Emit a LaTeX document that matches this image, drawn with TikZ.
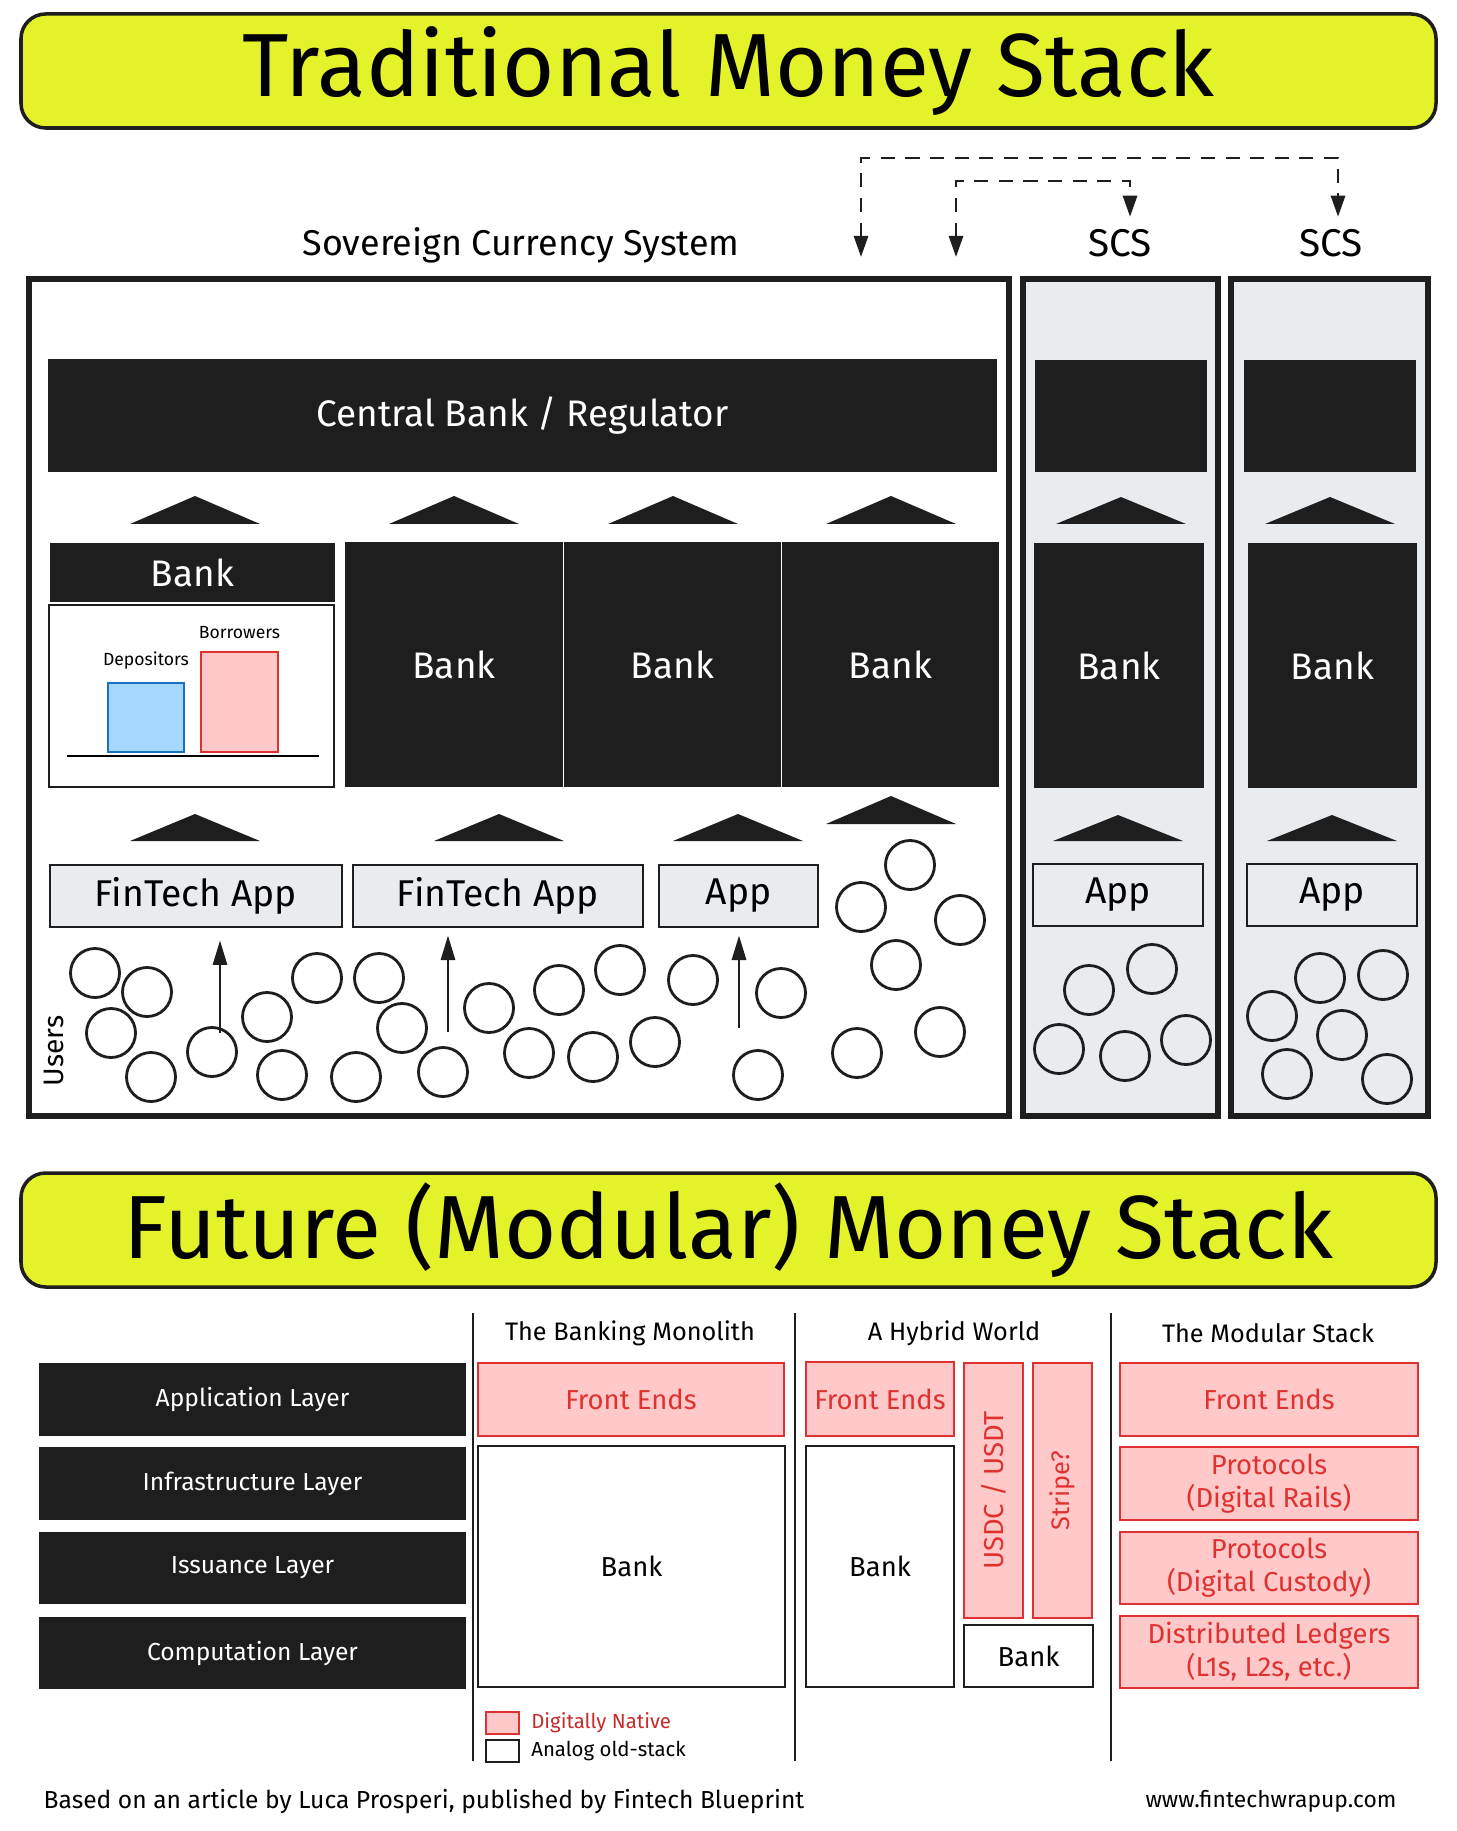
\documentclass[tikz,border=0pt]{standalone}
\usepackage{fontspec}
\setmainfont{Fira Sans}
\usetikzlibrary{arrows.meta,fit,positioning}
\definecolor{ttlyellow}{HTML}{E4F22A}
\definecolor{inkblack}{HTML}{1E1E1E}
\definecolor{stackgray}{HTML}{E9ECEF}
\definecolor{nativepink}{HTML}{FFC9C9}
\definecolor{nativered}{HTML}{E03131}
\definecolor{keyred}{HTML}{C92A2A}
\definecolor{depblue}{HTML}{A5D8FF}
\definecolor{depline}{HTML}{1971C2}
\newcommand{\fsz}[1]{\fontsize{#1}{1.2\dimexpr#1pt\relax}\selectfont}
\tikzset{
  ttl/.style={fill=ttlyellow, draw=inkblack, line width=1pt, rounded corners=7pt, inner sep=0pt},
  ttltxt/.style={font=\fsz{25.5}},
  frame/.style={draw=inkblack, line width=1.5pt, inner sep=0pt},
  scsframe/.style={frame, fill=stackgray},
  blk/.style={fill=inkblack, draw=inkblack, inner sep=0pt},
  onblk/.style={text=white, font=\fsz{10.5}},
  plain/.style={draw=inkblack, fill=white, line width=0.6pt, inner sep=0pt},
  plaintxt/.style={font=\fsz{7.8}},
  appbox/.style={draw=inkblack, fill=stackgray, line width=0.8pt, inner sep=0pt},
  apptxt/.style={font=\fsz{10.6}},
  native/.style={draw=nativered, fill=nativepink, line width=0.6pt, inner sep=0pt},
  nativetxt/.style={text=nativered, align=center, font=\fsz{7.8}},
  layertxt/.style={text=white, font=\fsz{7}},
  usr/.style={draw=inkblack, line width=0.8pt},
  roof/.style={fill=inkblack},
  dasharrow/.style={draw=inkblack, line width=0.8pt, dash pattern=on 4pt off 3pt,
    {Triangle[length=6pt,width=4pt]}-{Triangle[length=6pt,width=4pt]}},
  uparrow/.style={draw=inkblack, line width=0.8pt, -{Triangle[length=7pt,width=4pt]}},
  divider/.style={draw=inkblack, line width=0.6pt},
  coltitle/.style={font=\fsz{7.2}},
}
\begin{document}
\begin{tikzpicture}[x=0.01cm, y=-0.01cm]
  \useasboundingbox[fill=white] (0,0) rectangle (1456,1831);
  % titles
  \node[ttl, fit={(21,14) (1436,128)}, label={[ttltxt]center:Traditional Money Stack}] (ttltrad) {};
  \node[ttl, fit={(21,1173) (1436,1287)}, label={[ttltxt]center:Future (Modular) Money Stack}] (ttlfut) {};

  % labels over the stacks
  \node[font=\fsz{10.2}] (sovlbl) at (521,245) {Sovereign Currency System};
  \node[font=\fsz{11}] (scsA) at (1120,243) {SCS};
  \node[font=\fsz{11}] (scsB) at (1331,243) {SCS};
  \coordinate (dA) at (861,257);
  \coordinate (dB) at (956,257);
  \draw[dasharrow] (dA) -- ++(0,-99) -| ([xshift=0.07cm]scsB.north);
  \draw[dasharrow] (dB) -- ++(0,-76) -| ([xshift=0.1cm]scsA.north);

  % outer frames
  \node[frame, fit={(29,279) (1009,1116)}] (sov) {};
  \node[scsframe, fit={(1023,279) (1218,1116)}] (scsboxA) {};
  \node[scsframe, fit={(1231,279) (1428,1116)}] (scsboxB) {};

  % regulators
  \node[blk, fit={(49,360) (996,471)}, label={[onblk]center:Central Bank / Regulator}] (cb) {};
  \node[blk, fit={(1036,361) (1206,471)}] (cbA) {};
  \node[blk, fit={(1245,361) (1415,471)}] (cbB) {};

  % roofs
  \foreach \cx/\ty/\by in {195/496/524, 454/496/524, 673/496/524, 891/496/524,
      1121/497/524, 1330/497/524, 195/814/841, 499/814/841, 738/814/841,
      891/796/824, 1118/815/841, 1332/815/841}
    \fill[roof] (\cx-65,\by) -- (\cx,\ty) -- (\cx+65,\by) -- cycle;

  % banks
  \node[blk, fit={(51,544) (334,601)}, label={[onblk]center:Bank}] (bank1) {};
  \node[plain, fit={(49,605) (334,787)}] (bal) {};
  \node[draw=depline, fill=depblue, line width=0.6pt, inner sep=0pt, fit={(108,683) (184,752)}] (dep) {};
  \node[draw=nativered, fill=nativepink, line width=0.6pt, inner sep=0pt, fit={(201,652) (278,752)}] (bor) {};
  \node[above=0pt of dep, font=\fsz{5}] (deplbl) {Depositors};
  \node[above=0pt of bor, font=\fsz{5}] (borlbl) {Borrowers};
  \draw[line width=0.6pt] (67,756) -- (319,756);
  \node[blk, fit={(346,543) (562,786)}, label={[onblk]center:Bank}] (bank2) {};
  \node[blk, fit={(565,543) (780,786)}, label={[onblk]center:Bank}] (bank3) {};
  \node[blk, fit={(783,543) (998,786)}, label={[onblk]center:Bank}] (bank4) {};
  \node[blk, fit={(1035,544) (1203,787)}, label={[onblk]center:Bank}] (bankA) {};
  \node[blk, fit={(1249,544) (1416,787)}, label={[onblk]center:Bank}] (bankB) {};

  % apps
  \node[appbox, fit={(50,865) (342,927)}, label={[apptxt]center:FinTech App}] (fa1) {};
  \node[appbox, fit={(353,865) (643,927)}, label={[apptxt]center:FinTech App}] (fa2) {};
  \node[appbox, fit={(659,865) (818,927)}, label={[apptxt]center:App}] (fa3) {};
  \node[appbox, fit={(1033,864) (1203,926)}, label={[apptxt]center:App}] (faA) {};
  \node[appbox, fit={(1247,864) (1417,926)}, label={[apptxt]center:App}] (faB) {};

  \coordinate (ua1) at (220,1033);
  \coordinate (ua2) at (448,1032);
  \coordinate (ua3) at (739,1028);
  \draw[uparrow, shorten >=3.4pt] (ua1) -- (ua1 |- fa1.south);
  \draw[uparrow, shorten >=2pt] (ua2) -- (ua2 |- fa2.south);
  \draw[uparrow, shorten >=2pt] (ua3) -- (ua3 |- fa3.south);

  % users
  \node[rotate=90, font=\fsz{8}] (usrlbl) at (54,1051) {Users};
  \foreach \cx/\cy in {95/973, 147/992, 111/1033, 151/1077, 212/1052, 267/1017,
      317/978, 282/1075, 356/1077, 379/978, 402/1028, 443/1072, 489/1008,
      559/990, 529/1053, 593/1057, 620/970, 655/1042, 693/980, 781/993,
      758/1075, 910/865, 861/907, 960/920, 896/965, 857/1053, 940/1032,
      1089/990, 1152/969, 1059/1049, 1125/1056, 1186/1040,
      1320/978, 1383/975, 1272/1016, 1342/1035, 1287/1074, 1387/1079}
    \draw[usr] (\cx,\cy) circle[radius=2.45mm];

  % layers
  \node[blk, fit={(40,1364) (465,1435)}, label={[layertxt]center:Application Layer}] (lapp) {};
  \node[blk, fit={(40,1448) (465,1519)}, label={[layertxt]center:Infrastructure Layer}] (linf) {};
  \node[blk, fit={(40,1533) (465,1603)}, label={[layertxt]center:Issuance Layer}] (liss) {};
  \node[blk, fit={(40,1618) (465,1688)}, label={[layertxt]center:Computation Layer}] (lcomp) {};

  \draw[divider] (473,1313) -- (473,1761);
  \draw[divider] (795,1313) -- (795,1761);
  \draw[divider] (1111,1313) -- (1111,1761);

  % banking monolith
  \node[coltitle] (colmono) at (630,1333) {The Banking Monolith};
  \node[native, fit={(478,1363) (784,1436)}, label={[nativetxt]center:Front Ends}] (monofe) {};
  \node[plain, fit={(478,1446) (785,1687)}, label={[plaintxt]center:Bank}] (monobank) {};

  % hybrid world
  \node[coltitle] (colhyb) at (954,1333) {A Hybrid World};
  \node[native, fit={(806,1362) (954,1436)}, label={[nativetxt]center:Front Ends}] (hybfe) {};
  \node[plain, fit={(806,1446) (954,1687)}, label={[plaintxt]center:Bank}] (hybbank) {};
  \node[native, fit={(964,1363) (1023,1618)}] (usdc) {};
  \node[native, fit={(1033,1363) (1092,1618)}] (stripe) {};
  \node[rotate=90, nativetxt] (usdclbl) at (usdc) {USDC / USDT};
  \node[rotate=90, nativetxt, font=\fsz{7.2}] (stripelbl) at (stripe) {Stripe?};
  \node[plain, fit={(964,1625) (1093,1687)}, label={[plaintxt]center:Bank}] (hybbank2) {};

  % modular stack
  \node[coltitle] (colmod) at (1268,1333) {The Modular Stack};
  \node[native, fit={(1120,1363) (1418,1436)}, label={[nativetxt]center:Front Ends}] (modfe) {};
  \node[native, fit={(1120,1447) (1418,1520)}, label={[nativetxt]center:{Protocols\\(Digital Rails)}}] (modrail) {};
  \node[native, fit={(1120,1532) (1418,1604)}, label={[nativetxt]center:{Protocols\\(Digital Custody)}}] (modcust) {};
  \node[native, fit={(1120,1616) (1418,1688)}, label={[nativetxt]center:{Distributed Ledgers\\(L1s, L2s, etc.)}}] (modledg) {};

  % legend
  \node[native, fit={(486,1712) (519,1734)}] (keynat) {};
  \node[plain, fit={(486,1740) (519,1762)}] (keyold) {};
  \node[right=3pt of keynat, inner sep=0pt, text=keyred, font=\fsz{5.8}] (keynatlbl) {Digitally Native};
  \node[right=3pt of keyold, inner sep=0pt, font=\fsz{5.8}] (keyoldlbl) {Analog old-stack};

  % footer
  \node[anchor=west, inner sep=0pt, font=\fsz{7}] (credit) at (43,1801) {Based on an article by Luca Prosperi, published by Fintech Blueprint};
  \node[font=\fsz{6.5}] (site) at (1271,1801) {www.fintechwrapup.com};
\end{tikzpicture}
\end{document}
